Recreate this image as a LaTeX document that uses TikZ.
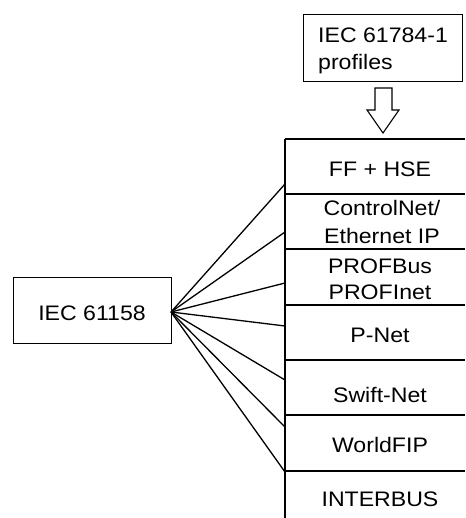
\documentclass[tikz,border=0pt]{standalone}
\usepackage{fontspec}
\setmainfont{Liberation Sans}[FakeStretch=1.1]
\begin{document}
\begin{tikzpicture}[x=1pt,y=-1pt,
  every node/.style={font=\fontsize{21}{27}\selectfont, inner sep=0pt},
  box/.style={draw, line width=1.3pt},
  ln/.style={line width=1.3pt},
  lbl/.style={align=center}]
\useasboundingbox (0,0) rectangle (465,518);
% top box
\node[box, minimum width=159pt, minimum height=67pt, anchor=north west] (prof) at (303,14) {};
\node[anchor=base west, align=left] (proft) at (318,43) {IEC 61784-1};
\node[anchor=base west] (proft2) at (318,70) {profiles};
% hollow arrow
\draw[ln, line width=1.1pt, fill=white] (375,88) -- (392,88) -- (392,110) -- (399,110) -- (383,133) -- (367,110) -- (375,110) -- cycle;
% column
\coordinate (ctop) at (285,139);
\coordinate (cbot) at (285,518);
\draw[ln] (ctop) -- (cbot);
\foreach \y in {139,194,249,305,360,415,471} {
  \draw[ln] (285,\y) -- (465,\y);
}
% labels
\node[anchor=base] (ff) at (380,177) {FF + HSE};
\node[anchor=base] (cn1) at (382,216) {ControlNet/};
\node[anchor=base] (cn2) at (382,243) {Ethernet IP};
\node[anchor=base] (pb1) at (380,273) {PROFBus};
\node[anchor=base] (pb2) at (380,299) {PROFInet};
\node[anchor=base] (pn) at (380,342) {P-Net};
\node[anchor=base] (sn) at (380,402) {Swift-Net};
\node[anchor=base] (wf) at (380,452) {WorldFIP};
\node[anchor=base] (ib) at (380,506) {INTERBUS};
% left box
\node[box, minimum width=158pt, minimum height=66pt, anchor=north west] (iec) at (13,277) {};
\node[anchor=base] (iect) at (92,320) {IEC 61158};
\coordinate (fan) at (171,312);
\foreach \y in {184,232,283,326,380,427,472} {
  \draw[ln] (fan) -- (285,\y);
}
\end{tikzpicture}
\end{document}
